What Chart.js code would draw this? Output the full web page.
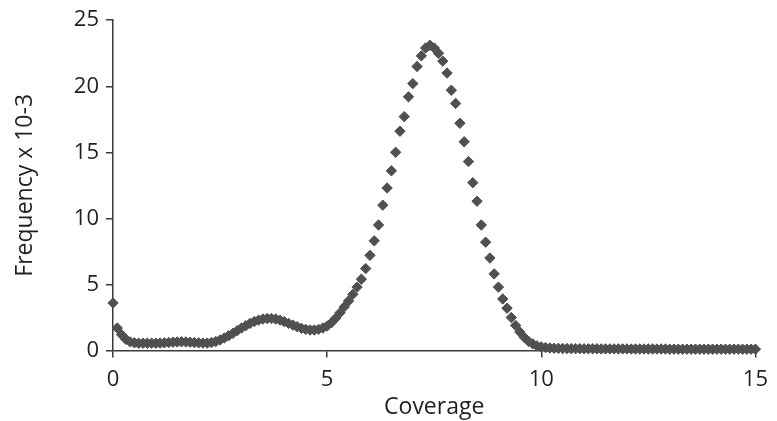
<!DOCTYPE html>
<html>
<head>
<meta charset="utf-8">
<script src="https://cdn.jsdelivr.net/npm/chart.js@4"></script>
<style>
  html, body { margin: 0; padding: 0; background: #ffffff; }
  #wrap { width: 777px; height: 421px; }
</style>
</head>
<body>
<div id="wrap"><canvas id="chart" width="777" height="421"></canvas></div>
<script>
// Coverage values (x axis)
const coverage = [
  0.0, 0.1, 0.2, 0.3, 0.4, 0.5, 0.6, 0.7, 0.8, 0.9,
  1.0, 1.1, 1.2, 1.3, 1.4, 1.5, 1.6, 1.7, 1.8, 1.9,
  2.0, 2.1, 2.2, 2.3, 2.4, 2.5, 2.6, 2.7, 2.8, 2.9,
  3.0, 3.1, 3.2, 3.3, 3.4, 3.5, 3.6, 3.7, 3.8, 3.9,
  4.0, 4.1, 4.2, 4.3, 4.4, 4.5, 4.6, 4.7, 4.8, 4.9,
  5.0, 5.1, 5.2, 5.3, 5.4, 5.5, 5.6, 5.7, 5.8, 5.9,
  6.0, 6.1, 6.2, 6.3, 6.4, 6.5, 6.6, 6.7, 6.8, 6.9,
  7.0, 7.1, 7.2, 7.3, 7.4, 7.5, 7.6, 7.7, 7.8, 7.9,
  8.0, 8.1, 8.2, 8.3, 8.4, 8.5, 8.6, 8.7, 8.8, 8.9,
  9.0, 9.1, 9.2, 9.3, 9.4, 9.5, 9.6, 9.7, 9.8, 9.9,
  10.0, 10.1, 10.2, 10.3, 10.4, 10.5, 10.6, 10.7, 10.8, 10.9,
  11.0, 11.1, 11.2, 11.3, 11.4, 11.5, 11.6, 11.7, 11.8, 11.9,
  12.0, 12.1, 12.2, 12.3, 12.4, 12.5, 12.6, 12.7, 12.8, 12.9,
  13.0, 13.1, 13.2, 13.3, 13.4, 13.5, 13.6, 13.7, 13.8, 13.9,
  14.0, 14.1, 14.2, 14.3, 14.4, 14.5, 14.6, 14.7, 14.8, 14.9,
  15.0
];

// Frequency x 10-3 (y axis)
const frequency = [
  3.6, 1.7, 1.2, 0.85, 0.65, 0.58, 0.55, 0.55, 0.55, 0.55,
  0.55, 0.56, 0.58, 0.6, 0.63, 0.65, 0.66, 0.65, 0.63, 0.6,
  0.58, 0.56, 0.56, 0.6, 0.68, 0.8, 0.95, 1.12, 1.3, 1.5,
  1.7, 1.88, 2.05, 2.2, 2.3, 2.38, 2.42, 2.42, 2.38, 2.3,
  2.18, 2.05, 1.92, 1.8, 1.68, 1.6, 1.55, 1.55, 1.6, 1.7,
  1.85, 2.1, 2.45, 2.85, 3.3, 3.75, 4.25, 4.8, 5.4, 6.2,
  7.2, 8.3, 9.5, 11.0, 12.3, 13.6, 15.0, 16.6, 17.7, 19.2,
  20.2, 21.5, 22.3, 22.9, 23.1, 22.9, 22.5, 21.9, 21.0, 19.7,
  18.7, 17.2, 15.8, 14.3, 12.7, 11.3, 9.5, 8.2, 7.0, 5.8,
  4.8, 3.9, 3.2, 2.5, 1.9, 1.4, 1.0, 0.7, 0.5, 0.35,
  0.27, 0.22, 0.19, 0.17, 0.16, 0.15, 0.15, 0.14, 0.14, 0.14,
  0.13, 0.13, 0.13, 0.13, 0.12, 0.12, 0.12, 0.12, 0.12, 0.12,
  0.12, 0.11, 0.11, 0.11, 0.11, 0.11, 0.11, 0.11, 0.11, 0.11,
  0.1, 0.1, 0.1, 0.1, 0.1, 0.1, 0.1, 0.1, 0.1, 0.1,
  0.1, 0.1, 0.1, 0.1, 0.1, 0.1, 0.1, 0.1, 0.1, 0.1,
  0.1
];

const xTicks = [0, 5, 10, 15];
const yTicks = [0, 5, 10, 15, 20, 25];

const textColor = '#231f20';
const axisColor = '#3a3a3a';
const markColor = '#505050';
const fontFamily = '"Open Sans", "DejaVu Sans", sans-serif';

const points = coverage.map((x, i) => ({ x: x, y: frequency[i] }));

new Chart(document.getElementById('chart'), {
  type: 'scatter',
  data: {
    datasets: [{
      data: points,
      pointStyle: 'rectRot',
      pointRadius: 5.2,
      pointBorderWidth: 1,
      backgroundColor: markColor,
      borderColor: markColor,
      showLine: false,
      clip: false
    }]
  },
  options: {
    responsive: false,
    animation: false,
    layout: { padding: { left: 0, top: 20, right: 18, bottom: 0 } },
    plugins: {
      legend: { display: false },
      tooltip: { enabled: false }
    },
    scales: {
      x: {
        type: 'linear',
        min: 0,
        max: 15,
        afterBuildTicks: (scale) => { scale.ticks = xTicks.map(v => ({ value: v })); },
        afterFit: (scale) => { scale.height = 70.5; },
        ticks: { color: textColor, padding: 9, maxRotation: 0, font: { family: fontFamily, size: 22 } },
        grid: { drawOnChartArea: false, drawTicks: true, tickLength: 7, color: axisColor, lineWidth: 1.5 },
        border: { display: true, color: axisColor, width: 1.5 },
        title: { display: true, text: 'Coverage', color: textColor, padding: 0, font: { family: fontFamily, size: 23 } }
      },
      y: {
        type: 'linear',
        min: 0,
        max: 25,
        afterBuildTicks: (scale) => { scale.ticks = yTicks.map(v => ({ value: v })); },
        afterFit: (scale) => { scale.width = 113; },
        ticks: { color: textColor, padding: 7, font: { family: fontFamily, size: 22 } },
        grid: { drawOnChartArea: false, drawTicks: true, tickLength: 7, color: axisColor, lineWidth: 1.5 },
        border: { display: true, color: axisColor, width: 1.5 },
        title: { display: true, text: 'Frequency x 10-3', color: textColor, padding: { top: 12, bottom: 0 }, font: { family: fontFamily, size: 23 } }
      }
    }
  }
});
</script>
</body>
</html>
